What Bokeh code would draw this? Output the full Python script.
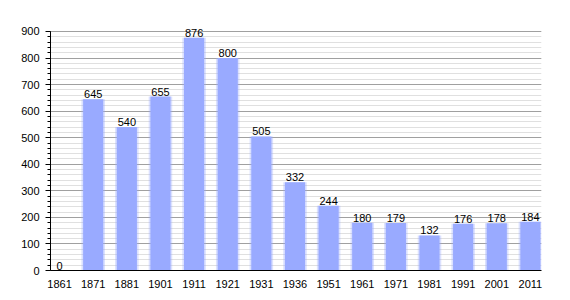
from bokeh.plotting import figure
from bokeh.models import FixedTicker, ColumnDataSource, Range1d
from bokeh.embed import file_html
from bokeh.resources import INLINE
from bokeh.core.properties import value

years = ["1861", "1871", "1881", "1901", "1911", "1921", "1931", "1936",
         "1951", "1961", "1971", "1981", "1991", "2001", "2011"]
population = [0, 645, 540, 655, 876, 800, 505, 332, 244, 180, 179, 132, 176, 178, 184]
y_ticks = [0, 100, 200, 300, 400, 500, 600, 700, 800, 900]

xs = list(range(len(years)))
src = ColumnDataSource(dict(x=xs, y=population, lbl=[str(v) for v in population]))

p = figure(width=570, height=300, output_backend="svg", toolbar_location=None,
           x_range=Range1d(-0.27, 14.33), y_range=Range1d(0, 930),
           min_border_left=50, min_border_right=29, min_border_top=23, min_border_bottom=30)
p.outline_line_color = None
p.background_fill_color = "white"

# soft halo then bar
p.vbar(x="x", top="y", width=0.70, bottom=0, source=src, fill_color="#99aaff",
       fill_alpha=0.35, line_color=None)
p.vbar(x="x", top="y", width=0.60, bottom=0, source=src, fill_color="#99aaff",
       line_color=None)

p.text(x="x", y="y", text="lbl", source=src, text_align="center", text_baseline="bottom",
       text_font=value("Liberation Sans"), text_font_size="11px", text_color="black",
       y_offset=-1)

minor = list(range(0, 901, 20))
p.xgrid.visible = False
p.ygrid.ticker = FixedTicker(ticks=y_ticks, minor_ticks=minor)
p.ygrid.grid_line_color = "#a0a0a0"
p.ygrid.minor_grid_line_color = "#e0e0e0"
p.ygrid.level = "underlay"

p.yaxis.ticker = FixedTicker(ticks=y_ticks, minor_ticks=minor)
p.yaxis.bounds = (0, 900)
p.yaxis.axis_line_color = "black"
p.yaxis.major_tick_out = 5
p.yaxis.major_tick_in = 0
p.yaxis.minor_tick_out = 3
p.yaxis.minor_tick_in = 0
p.yaxis.major_tick_line_color = "black"
p.yaxis.minor_tick_line_color = "black"
p.yaxis.major_label_standoff = 6
p.yaxis.major_label_text_font = "Liberation Sans"
p.yaxis.major_label_text_font_size = "11px"
p.yaxis.major_label_text_color = "black"

p.xaxis.ticker = FixedTicker(ticks=xs)
p.xaxis.major_label_overrides = {i: y for i, y in enumerate(years)}
p.xaxis.axis_line_color = "black"
p.xaxis.major_tick_line_color = None
p.xaxis.minor_tick_line_color = None
p.xaxis.major_label_standoff = 3
p.xaxis.major_label_text_font = "Liberation Sans"
p.xaxis.major_label_text_font_size = "11px"
p.xaxis.major_label_text_color = "black"

open("out.html", "w").write(file_html(p, INLINE))
